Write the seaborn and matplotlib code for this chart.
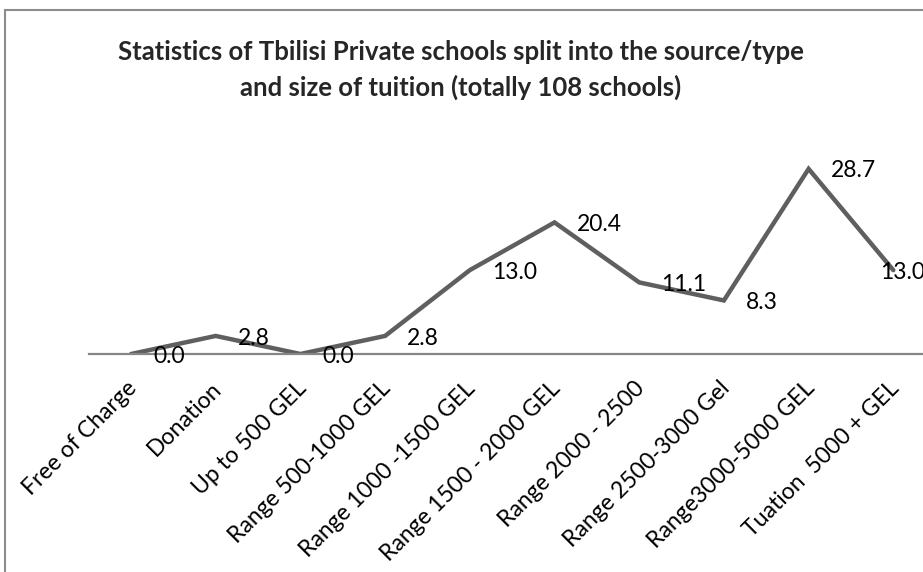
import matplotlib
matplotlib.use("Agg")
import pandas as pd
import seaborn as sns
from matplotlib import pyplot as plt
from matplotlib import transforms
from matplotlib.patches import Rectangle

categories = ['Free of Charge', 'Donation', 'Up to 500 GEL', 'Range 500-1000 GEL',
              'Range 1000 -1500 GEL', 'Range 1500 - 2000 GEL', 'Range 2000 - 2500',
              'Range 2500-3000 Gel', 'Range3000-5000 GEL', 'Tuation  5000 + GEL']
shares = [0.0, 2.8, 0.0, 2.8, 13.0, 20.4, 11.1, 8.3, 28.7, 13.0]

title = 'Statistics of Tbilisi Private schools split into the source/type\nand size of tuition (totally 108 schools)'

df = pd.DataFrame({'category': categories, 'share': shares})

sns.set_style('white')
plt.rcParams['font.family'] = ['Lato', 'DejaVu Sans']

W, H = 923, 572
fig = plt.figure(figsize=(W / 100, H / 100), dpi=100)

# plot area: x axis line at y=354px, category step ~84.7px, first point at x=131px
step = 84.7
left_px = 131 - step / 2
ax = fig.add_axes([left_px / W, 1 - 354 / H, step * 10 / W, 224 / H])

sns.lineplot(data=df, x='category', y='share', ax=ax, color='#5f5f5f',
             linewidth=3.2, sort=False, solid_joinstyle='miter')

ax.set_xlim(-0.5, 9.5)
ax.set_ylim(0, 224 / 6.45)
for s in ['top', 'right', 'left']:
    ax.spines[s].set_visible(False)
ax.spines['bottom'].set_color('#868686')
ax.spines['bottom'].set_linewidth(1.6)
ax.set_yticks([])
ax.set_xlabel('')
ax.set_ylabel('')
ax.tick_params(axis='x', length=0, pad=17)
ax.set_xticks(range(len(categories)))
ax.set_xticklabels(categories, rotation=45, ha='right', rotation_mode='anchor',
                   fontsize=16.6, color='black')
for lab in ax.get_xticklabels():
    lab.set_transform(lab.get_transform() + transforms.ScaledTranslation(-0.05, 0, fig.dpi_scale_trans))

# data labels to the right of the points; the last one is pulled back inside
for i, v in enumerate(shares):
    dx = 16 if i < len(shares) - 1 else -9.5
    ax.annotate(f'{v:.1f}', (i, v), xytext=(dx, -1.5), textcoords='offset points',
                ha='left', va='center', fontsize=16.5, color='black', clip_on=False)

fig.text(461 / W, 1 - 70 / H, title, ha='center', va='center', fontsize=18.5,
         fontweight='bold', linespacing=1.5)

fig.patches.append(Rectangle((4.5 / W, -0.1), 1.2, 1.1 - 10 / H, transform=fig.transFigure,
                             fill=False, edgecolor='#8c8c8c', linewidth=1.5))

fig.savefig('out.png', dpi=100)
